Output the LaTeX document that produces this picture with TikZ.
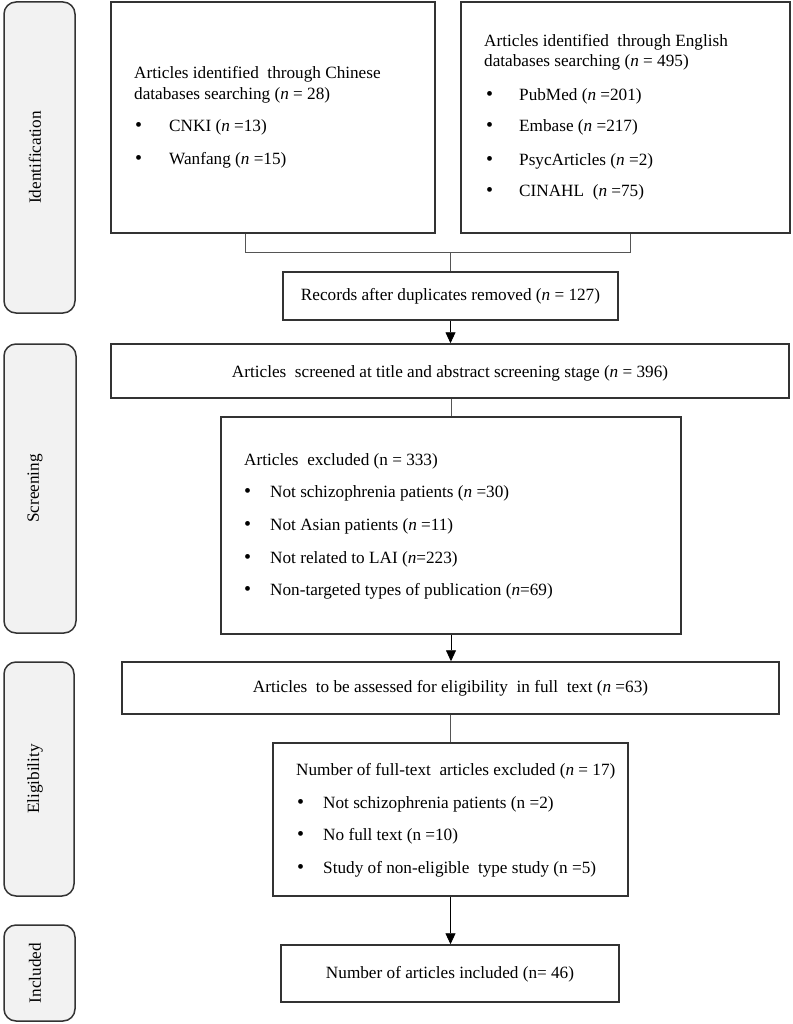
\documentclass[tikz,border=0pt]{standalone}
\usepackage{fontspec}
\setmainfont{Liberation Serif}
\usetikzlibrary{arrows.meta}
\definecolor{labfill}{HTML}{F2F2F2}
\definecolor{boxline}{HTML}{333333}
\definecolor{conline}{HTML}{555555}
\begin{document}
\begin{tikzpicture}[x=1pt,y=-1pt,
  font=\fontsize{17.2}{20}\selectfont,
  stage/.style={draw=boxline,line width=1.5pt,fill=labfill,rounded corners=12pt,inner sep=0pt},
  stagetext/.style={rotate=90,inner sep=0pt},
  flowbox/.style={draw=boxline,line width=1.5pt,fill=white,inner sep=0pt},
  txt/.style={anchor=west,inner sep=0pt,text height=12pt,text depth=4pt},
  bul/.style={txt,font=\fontsize{20}{20}\selectfont},
  ctxt/.style={inner sep=0pt,text height=12pt,text depth=4pt},
  link/.style={draw=conline,line width=0.9pt},
  arrowlink/.style={link,-{Triangle[width=10pt,length=11pt]},draw=black}]
\useasboundingbox (0,0) rectangle (792,1024);

% stage labels
\node[stage,minimum width=71pt,minimum height=311pt] (ident) at (39.5,157.5) {};
\node[stagetext] (identt) at (35,157.5) {Identification};
\node[stage,minimum width=72pt,minimum height=289pt] (scrl) at (40,488.5) {};
\node[stagetext] (scrlt) at (35,488.5) {Screening};
\node[stage,minimum width=70pt,minimum height=234pt] (eligl) at (39,779) {};
\node[stagetext] (eliglt) at (35,779) {Eligibility};
\node[stage,minimum width=71pt,minimum height=96pt] (incl) at (39.5,973) {};
\node[stagetext] (inclt) at (35,973) {Included};

% boxes
\node[flowbox,minimum width=324pt,minimum height=231pt] (chn) at (273,117.5) {};
\node[flowbox,minimum width=329pt,minimum height=231pt] (eng) at (625.5,117.5) {};
\node[flowbox,minimum width=335pt,minimum height=48pt] (dup) at (450.5,296) {};
\node[flowbox,minimum width=678pt,minimum height=54pt] (scr) at (450,371) {};
\node[flowbox,minimum width=460pt,minimum height=217pt] (exc) at (451,525.5) {};
\node[flowbox,minimum width=657pt,minimum height=52pt] (elig) at (450.5,688) {};
\node[flowbox,minimum width=355pt,minimum height=153pt] (ftx) at (450.5,819.5) {};
\node[flowbox,minimum width=338pt,minimum height=57pt] (inc) at (450,973.5) {};

% Chinese box text
\node[txt] (c1) at (134,75) {Articles identified\ \ through Chinese};
\node[txt] (c2) at (134,96) {databases searching (\textit{n} = 28)};
\node[bul] (cb1) at (135,128) {•};
\node[txt] (c3) at (169,128) {CNKI (\textit{n} =13)};
\node[bul] (cb2) at (135,161) {•};
\node[txt] (c4) at (169,161) {Wanfang (\textit{n} =15)};

% English box text
\node[txt] (e1) at (484,43) {Articles identified\ \ through English};
\node[txt] (e2) at (484,63) {databases searching (\textit{n} = 495)};
\node[bul] (eb1) at (486,97) {•};
\node[txt] (e3) at (519,97) {PubMed (\textit{n} =201)};
\node[bul] (eb2) at (486,128) {•};
\node[txt] (e4) at (519,128) {Embase (\textit{n} =217)};
\node[bul] (eb3) at (486,162) {•};
\node[txt] (e5) at (519,162) {PsycArticles (\textit{n} =2)};
\node[bul] (eb4) at (486,193) {•};
\node[txt] (e6) at (519,193) {CINAHL\ \ (\textit{n} =75)};

% single-line boxes
\node[ctxt] (dupt) at (450.5,296) {Records after duplicates removed (\textit{n} = 127)};
\node[ctxt] (scrt) at (450,373) {Articles\ \ screened at title\ and abstract screening\ stage (\textit{n} = 396)};
\node[ctxt] (eligt) at (450.5,688) {Articles\ \ to be assessed for eligibility\ \ in full\ \ text (\textit{n} =63)};
\node[ctxt] (inct) at (450,974) {Number of articles\ included (n= 46)};

% excluded box text
\node[txt] (x1) at (244,461) {Articles\ \ excluded (n = 333)};
\node[bul] (xb1) at (244,493) {•};
\node[txt] (x2) at (270,493) {Not schizophrenia\ patients (\textit{n} =30)};
\node[bul] (xb2) at (244,526) {•};
\node[txt] (x3) at (270,526) {Not Asian patients (\textit{n} =11)};
\node[bul] (xb3) at (244,559) {•};
\node[txt] (x4) at (270,559) {Not related\ to LAI (\textit{n}=223)};
\node[bul] (xb4) at (244,591) {•};
\node[txt] (x5) at (270,591) {Non-targeted types of publication\ (\textit{n}=69)};

% full-text excluded box text
\node[txt] (f1) at (296,771) {Number of full-text\ \ articles excluded (\textit{n} = 17)};
\node[bul] (fb1) at (297,804) {•};
\node[txt] (f2) at (323,804) {Not schizophrenia\ patients (n =2)};
\node[bul] (fb2) at (297,836) {•};
\node[txt] (f3) at (323,836) {No full text\ (n =10)};
\node[bul] (fb3) at (297,869) {•};
\node[txt] (f4) at (323,869) {Study of non-eligible\ \ type study (n =5)};

% connectors
\coordinate (jl) at (245,252);
\coordinate (jr) at (630,252);
\draw[link] (jl |- chn.south) -- (jl) -- (jr) -- (jr |- eng.south);
\draw[link] (jl -| dup.north) -- (dup.north);
\draw[arrowlink] (dup.south) -- (dup.south |- scr.north);
\draw[link] (scr.south -| exc.north) -- (exc.north);
\draw[arrowlink] (exc.south) -- (exc.south |- elig.north);
\draw[link] (elig.south -| ftx.north) -- (ftx.north);
\draw[arrowlink] (ftx.south) -- (ftx.south |- inc.north);
\end{tikzpicture}
\end{document}
